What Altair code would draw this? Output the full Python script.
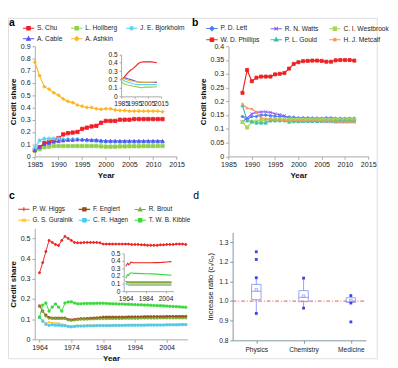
import json
import altair as alt
import pandas as pd

FONT = "Liberation Sans"
W, H = 390, 360

# ---------------- panel a ----------------
a_years = list(range(1985, 2013))
a_names = ["S. Chu", "L. Hollberg", "J. E. Bjorkholm", "A. Cable", "A. Ashkin"]
a_colors = ["#f01e28", "#8fd14f", "#62d3f4", "#5a4cf2", "#fcb625"]
a_chu = [0.05, 0.075, 0.11, 0.12, 0.135, 0.15, 0.18, 0.19, 0.195, 0.20, 0.225, 0.235, 0.245, 0.25,
         0.275, 0.29, 0.29, 0.29, 0.30, 0.30, 0.30, 0.305, 0.305, 0.305, 0.305, 0.305, 0.305, 0.305]
a_hollberg = [0.05, 0.06, 0.075, 0.08, 0.085, 0.085, 0.085, 0.085, 0.085, 0.085, 0.085, 0.085, 0.085, 0.085,
              0.082, 0.08, 0.08, 0.08, 0.082, 0.082, 0.083, 0.083, 0.083, 0.084, 0.084, 0.084, 0.085, 0.085]
a_bjorkholm = [0.07, 0.13, 0.145, 0.145, 0.145, 0.145, 0.14, 0.14, 0.14, 0.14, 0.135, 0.13, 0.13, 0.125,
               0.12, 0.12, 0.12, 0.12, 0.118, 0.118, 0.118, 0.118, 0.118, 0.118, 0.118, 0.118, 0.118, 0.118]
a_cable = [0.05, 0.075, 0.10, 0.11, 0.12, 0.125, 0.13, 0.135, 0.135, 0.138, 0.138, 0.138, 0.135, 0.135,
           0.13, 0.128, 0.128, 0.127, 0.127, 0.127, 0.127, 0.127, 0.127, 0.127, 0.127, 0.127, 0.127, 0.127]
a_ashkin = [0.77, 0.66, 0.57, 0.55, 0.52, 0.50, 0.47, 0.45, 0.44, 0.42, 0.41, 0.40, 0.40, 0.39,
            0.385, 0.39, 0.39, 0.38, 0.375, 0.375, 0.37, 0.37, 0.37, 0.37, 0.37, 0.37, 0.37, 0.365]

a_in_years = [1985, 1986, 1987, 1988, 1990, 1992, 1994, 1996, 1998, 2000, 2002, 2004, 2006, 2008, 2010, 2012]
a_in_chu = [0.20, 0.21, 0.22, 0.24, 0.28, 0.31, 0.33, 0.36, 0.39, 0.405, 0.41, 0.41, 0.41, 0.41, 0.405, 0.40]
a_in_hollberg = [0.20, 0.16, 0.15, 0.145, 0.135, 0.13, 0.12, 0.115, 0.11, 0.105, 0.107, 0.11, 0.11, 0.11, 0.112, 0.115]
a_in_bjorkholm = [0.20, 0.20, 0.19, 0.18, 0.17, 0.16, 0.15, 0.145, 0.14, 0.14, 0.14, 0.14, 0.14, 0.14, 0.14, 0.14]
a_in_cable = [0.20, 0.21, 0.22, 0.22, 0.21, 0.20, 0.19, 0.18, 0.17, 0.168, 0.165, 0.165, 0.165, 0.165, 0.165, 0.165]
a_in_ashkin = [0.20, 0.21, 0.21, 0.205, 0.195, 0.185, 0.18, 0.175, 0.17, 0.17, 0.17, 0.17, 0.17, 0.17, 0.172, 0.175]

# ---------------- panel b ----------------
b_years = list(range(1988, 2013))
b_names = ["P. D. Lett", "R. N. Watts", "C. I. Westbrook", "W. D. Phillips", "P. L. Gould", "H. J. Metcalf"]
b_colors = ["#4a80f0", "#8a5cf2", "#a5d65a", "#ee2020", "#30c4a4", "#f8955a"]
b_lett = [0.145, 0.135, 0.145, 0.145, 0.15, 0.15, 0.148, 0.146, 0.145, 0.145, 0.143, 0.142, 0.14,
          0.14, 0.14, 0.139, 0.139, 0.138, 0.14, 0.14, 0.138, 0.138, 0.138, 0.138, 0.138]
b_watts = [0.125, 0.14, 0.155, 0.16, 0.162, 0.162, 0.16, 0.155, 0.152, 0.148, 0.138, 0.132, 0.128,
           0.128, 0.127, 0.127, 0.127, 0.126, 0.126, 0.126, 0.125, 0.125, 0.125, 0.125, 0.125]
b_westbrook = [0.125, 0.105, 0.125, 0.127, 0.13, 0.133, 0.135, 0.135, 0.135, 0.135, 0.134, 0.134, 0.134,
               0.134, 0.134, 0.134, 0.134, 0.134, 0.134, 0.134, 0.134, 0.134, 0.134, 0.134, 0.134]
b_phillips = [0.231, 0.314, 0.273, 0.286, 0.29, 0.29, 0.29, 0.298, 0.30, 0.303, 0.319, 0.336, 0.342,
              0.346, 0.347, 0.348, 0.348, 0.347, 0.344, 0.344, 0.349, 0.35, 0.35, 0.35, 0.348]
b_gould = [0.185, 0.13, 0.128, 0.122, 0.122, 0.122, 0.13, 0.13, 0.13, 0.13, 0.125, 0.127, 0.127,
           0.128, 0.128, 0.128, 0.128, 0.128, 0.129, 0.129, 0.129, 0.13, 0.13, 0.13, 0.13]
b_metcalf = [0.19, 0.175, 0.172, 0.16, 0.14, 0.135, 0.135, 0.133, 0.132, 0.13, 0.13, 0.13, 0.13,
             0.13, 0.13, 0.13, 0.13, 0.128, 0.128, 0.128, 0.125, 0.125, 0.125, 0.125, 0.125]

# ---------------- panel c ----------------
c_years = list(range(1964, 2011))
c_names = ["P. W. Higgs", "F. Englert", "R. Brout", "G. S. Guralnik", "C. R. Hagen", "T. W. B. Kibble"]
c_colors = ["#ee2424", "#9a4a1c", "#78b634", "#fbbf2a", "#4cc8f0", "#3ad83a"]
c_higgs = [0.33, 0.38, 0.435, 0.49, 0.48, 0.47, 0.465, 0.49, 0.51, 0.50,
           0.49, 0.48, 0.478, 0.478, 0.48, 0.48, 0.48, 0.48, 0.48, 0.478,
           0.472, 0.472, 0.472, 0.472, 0.472, 0.472, 0.472, 0.472, 0.472, 0.47,
           0.47, 0.47, 0.468, 0.468, 0.466, 0.466, 0.466, 0.466, 0.468, 0.468,
           0.47, 0.47, 0.47, 0.472, 0.472, 0.472, 0.47]
c_englert = [0.165, 0.14, 0.12, 0.108, 0.105, 0.105, 0.105, 0.105, 0.105, 0.098,
             0.096, 0.098, 0.10, 0.102, 0.102, 0.103, 0.104, 0.105, 0.106, 0.107,
             0.11, 0.11, 0.11, 0.11, 0.11, 0.11, 0.11, 0.11, 0.111, 0.111,
             0.111, 0.111, 0.111, 0.112, 0.112, 0.112, 0.112, 0.112, 0.112, 0.112,
             0.113, 0.113, 0.113, 0.113, 0.113, 0.113, 0.113]
c_brout = [0.17, 0.14, 0.115, 0.105, 0.105, 0.104, 0.104, 0.104, 0.103, 0.097,
           0.095, 0.097, 0.099, 0.10, 0.10, 0.10, 0.101, 0.101, 0.102, 0.102,
           0.102, 0.102, 0.103, 0.103, 0.103, 0.103, 0.103, 0.104, 0.104, 0.104,
           0.104, 0.104, 0.105, 0.105, 0.105, 0.105, 0.105, 0.105, 0.106, 0.106,
           0.106, 0.106, 0.106, 0.106, 0.106, 0.106, 0.106]
c_guralnik = [0.11, 0.095, 0.08, 0.085, 0.082, 0.08, 0.08, 0.075, 0.07, 0.066,
              0.065, 0.067, 0.068, 0.068, 0.069, 0.069, 0.069, 0.07, 0.07, 0.07,
              0.07, 0.07, 0.07, 0.071, 0.071, 0.071, 0.071, 0.071, 0.071, 0.072,
              0.072, 0.072, 0.072, 0.072, 0.072, 0.072, 0.072, 0.072, 0.072, 0.072,
              0.073, 0.073, 0.073, 0.074, 0.074, 0.074, 0.074]
c_hagen = [0.11, 0.09, 0.075, 0.07, 0.072, 0.07, 0.07, 0.068, 0.068, 0.064,
           0.062, 0.064, 0.066, 0.066, 0.066, 0.067, 0.067, 0.067, 0.068, 0.068,
           0.068, 0.068, 0.068, 0.069, 0.069, 0.069, 0.069, 0.07, 0.07, 0.07,
           0.07, 0.07, 0.07, 0.07, 0.071, 0.071, 0.071, 0.071, 0.071, 0.071,
           0.072, 0.072, 0.072, 0.072, 0.073, 0.073, 0.073]
c_kibble = [0.11, 0.17, 0.18, 0.14, 0.16, 0.175, 0.16, 0.14, 0.18, 0.185,
            0.186, 0.18, 0.176, 0.176, 0.178, 0.178, 0.178, 0.178, 0.179, 0.179,
            0.179, 0.178, 0.177, 0.176, 0.176, 0.175, 0.175, 0.174, 0.174, 0.173,
            0.172, 0.171, 0.171, 0.17, 0.17, 0.169, 0.168, 0.167, 0.167, 0.166,
            0.165, 0.164, 0.163, 0.162, 0.161, 0.16, 0.159]

c_in_years = [1964, 1965, 1966, 1967, 1968, 1969, 1970, 1972, 1975, 1980, 1985, 1990, 1995, 2000, 2005, 2010]
c_in_higgs = [0.33, 0.35, 0.37, 0.35, 0.36, 0.38, 0.38, 0.375, 0.375, 0.375, 0.375, 0.375, 0.378, 0.38, 0.385, 0.39]
c_in_englert = [0.13, 0.125, 0.122, 0.12, 0.12, 0.12, 0.12, 0.12, 0.12, 0.12, 0.12, 0.12, 0.12, 0.12, 0.12, 0.12]
c_in_brout = [0.13, 0.12, 0.115, 0.112, 0.11, 0.11, 0.11, 0.11, 0.11, 0.11, 0.11, 0.11, 0.11, 0.11, 0.11, 0.11]
c_in_guralnik = [0.11, 0.10, 0.095, 0.09, 0.09, 0.09, 0.09, 0.09, 0.09, 0.09, 0.09, 0.09, 0.09, 0.09, 0.09, 0.09]
c_in_hagen = [0.10, 0.09, 0.085, 0.08, 0.08, 0.08, 0.08, 0.08, 0.08, 0.08, 0.08, 0.08, 0.08, 0.08, 0.08, 0.08]
c_in_kibble = [0.17, 0.20, 0.22, 0.21, 0.235, 0.24, 0.24, 0.235, 0.235, 0.232, 0.23, 0.228, 0.225, 0.22, 0.215, 0.21]

# ---------------- panel d ----------------
d_cats = ["Physics", "Chemistry", "Medicine"]
d_q1 = [1.007, 0.997, 0.993]
d_median = [1.05, 1.019, 0.995]
d_q3 = [1.085, 1.053, 1.017]
d_mean = [1.058, 1.025, 1.002]
d_low = [0.937, 0.964, 0.99]
d_high = [1.119, 1.117, 1.028]
d_pt_cat = ["Physics", "Physics", "Physics", "Physics", "Chemistry", "Chemistry",
            "Medicine", "Medicine", "Medicine"]
d_pt_val = [1.251, 1.212, 1.119, 0.937, 1.117, 0.964, 1.028, 0.99, 0.894]
d_ref = [1.0]

# ---------------- helpers ----------------
XP = "M-1,-1L1,1M-1,1L1,-1"
AST = "M-1,0H1M0,-1V1M-0.7,-0.7L0.7,0.7M-0.7,0.7L0.7,-0.7"
LEG = {
    "square": "M-1,0H1M-0.3,-0.3H0.3V0.3H-0.3Z",
    "circle": "M-1,0H1M0.3,0A0.3,0.3,0,1,1,-0.3,0A0.3,0.3,0,1,1,0.3,0Z",
    "triangle-up": "M-1,0H1M0,-0.35L0.32,0.25H-0.32Z",
    "diamond": "M-1,0H1M0,-0.38L0.38,0L0,0.38L-0.38,0Z",
    "cross": "M-1,0H1M0,-0.35V0.35",
    XP: "M-1,0H1M-0.3,-0.3L0.3,0.3M-0.3,0.3L0.3,-0.3",
    AST: "M-1,0H1M0,-0.35V0.35M-0.28,-0.28L0.28,0.28M-0.28,0.28L0.28,-0.28",
}


def long_df(years, names, series):
    rows = []
    for nm, vals in zip(names, series):
        for yr, v in zip(years, vals):
            rows.append({"year": yr, "share": v, "name": nm})
    return pd.DataFrame(rows)


def ax(**kw):
    base = dict(grid=False, labelFont=FONT, titleFont=FONT, labelFontSize=7.5, titleFontSize=8.5,
                titleFontWeight="bold", domainColor="#a6a6a6", tickColor="#a6a6a6", tickSize=3,
                labelColor="#222222", titleColor="#111111", labelFlush=False, labelOverlap=False,
                labelPadding=2, titlePadding=3)
    base.update(kw)
    return alt.Axis(**base)


def line_panel(df, names, colors, shapes, xdom, xrng, xvals, ydom, yrng, yvals, yfmt,
               legx, legy, colpad, psize, lw=1.2, legfont=7):
    X = alt.X("year:Q", scale=alt.Scale(domain=xdom, range=xrng, nice=False, zero=False),
              axis=ax(orient="bottom", offset=yrng[0] - H, values=xvals, format="d", title="Year"))
    Y = alt.Y("share:Q", scale=alt.Scale(domain=ydom, range=yrng, nice=False, zero=False),
              axis=ax(orient="left", offset=-xrng[0], values=yvals, format=yfmt, title="Credit share"))
    base = alt.Chart(df).encode(x=X, y=Y)
    cs = alt.Scale(domain=names, range=colors)
    lines = base.mark_line(strokeWidth=lw).encode(color=alt.Color("name:N", scale=cs, legend=None))
    pts = base.mark_point(filled=True, size=psize, strokeWidth=0.8, opacity=1).encode(
        color=alt.Color("name:N", scale=cs, legend=None),
        stroke=alt.Stroke("name:N", scale=cs, legend=None),
        shape=alt.Shape("name:N", scale=alt.Scale(domain=names, range=shapes), legend=None))
    leg = alt.Legend(orient="none", legendX=legx, legendY=legy, columns=3, direction="horizontal",
                     title=None, symbolSize=144, symbolOpacity=1, symbolStrokeWidth=1.1, labelFont=FONT,
                     labelFontSize=legfont, labelColor="#222222", columnPadding=colpad, rowPadding=-1,
                     padding=0, labelOffset=2)
    dummy = base.mark_point(filled=True, opacity=0).encode(
        color=alt.Color("name:N", scale=cs, legend=leg),
        stroke=alt.Stroke("name:N", scale=cs, legend=leg),
        shape=alt.Shape("name:N", scale=alt.Scale(domain=names, range=[LEG[s] for s in shapes]), legend=leg))
    return alt.layer(lines, pts, dummy).resolve_scale(color="independent", stroke="independent",
                                                      shape="independent")


def inset(df, names, colors, xdom, xrng, xvals, ydom, yrng, yvals):
    X = alt.X("year:Q", scale=alt.Scale(domain=xdom, range=xrng, nice=False, zero=False),
              axis=ax(orient="bottom", offset=yrng[0] - H, values=xvals, format="d", title=None,
                      labelFontSize=7, tickSize=2))
    Y = alt.Y("share:Q", scale=alt.Scale(domain=ydom, range=yrng, nice=False, zero=False),
              axis=ax(orient="left", offset=-xrng[0], values=yvals, format=".1~f", title=None,
                      labelFontSize=7, tickSize=2))
    return alt.Chart(df).mark_line(strokeWidth=1.2).encode(
        x=X, y=Y, color=alt.Color("name:N", scale=alt.Scale(domain=names, range=colors), legend=None))


# ---------------- build panels ----------------
df_a = long_df(a_years, a_names, [a_chu, a_hollberg, a_bjorkholm, a_cable, a_ashkin])
panel_a = line_panel(df_a, a_names, a_colors, ["square", "square", "circle", "triangle-up", "diamond"],
                     [1985, 2015], [28.4, 178.4], [1985, 1990, 1995, 2000, 2005, 2010, 2015],
                     [0, 0.9], [146.5, 30], [0, 0.1, 0.2, 0.3, 0.4, 0.5, 0.6, 0.7, 0.8, 0.9], ".1~f",
                     14.7, 4, 6, 13)
df_ai = long_df(a_in_years, a_names, [a_in_chu, a_in_hollberg, a_in_bjorkholm, a_in_cable, a_in_ashkin])
inset_a = inset(df_ai, a_names, a_colors, [1985, 2015], [119.6, 161.7], [1985, 1995, 2005, 2015],
                [0, 0.5], [83, 38.5], [0, 0.1, 0.2, 0.3, 0.4, 0.5])

df_b = long_df(b_years, b_names, [b_lett, b_watts, b_westbrook, b_phillips, b_gould, b_metcalf])
panel_b = line_panel(df_b, b_names, b_colors, ["diamond", XP, "square", "square", "triangle-up", AST],
                     [1985, 2015], [233.2, 381], [1985, 1990, 1995, 2000, 2005, 2010, 2015],
                     [0, 0.4], [146.5, 30], [0, 0.05, 0.1, 0.15, 0.2, 0.25, 0.3, 0.35, 0.4], ".2~f",
                     208.7, 4, 8, 11)

df_c = long_df(c_years, c_names, [c_higgs, c_englert, c_brout, c_guralnik, c_hagen, c_kibble])
panel_c = line_panel(df_c, c_names, c_colors, ["cross", "square", "triangle-up", XP, "square", "square"],
                     [1962.5, 2010.5], [28.3, 189.7], [1964, 1974, 1984, 1994, 2004],
                     [0, 0.55], [340, 222.5], [0, 0.1, 0.2, 0.3, 0.4, 0.5], ".1~f",
                     9.8, 195, 3, 5, lw=1.0, legfont=6.8)
df_ci = long_df(c_in_years, c_names, [c_in_higgs, c_in_englert, c_in_brout, c_in_guralnik, c_in_hagen, c_in_kibble])
inset_c = inset(df_ci, c_names, c_colors, [1962, 2012], [122.4, 175], [1964, 1984, 2004],
                [0, 0.5], [289, 249], [0, 0.1, 0.2, 0.3, 0.4, 0.5])

# panel d
d_xdom = [-0.5, 2.32]
d_xrng = [237.6, 378.6]
d_ydom = [0.8, 1.35]
d_yrng = [341, 226.8]
d_axis_col = "#7d919b"
d_xaxis = ax(orient="bottom", offset=d_yrng[0] - H, values=[0, 1, 2], title=None,
             labelExpr=json.dumps(d_cats) + "[datum.value]", domainColor=d_axis_col,
             tickColor=d_axis_col, labelFontSize=7, labelPadding=3)
d_yaxis = ax(orient="left", offset=-d_xrng[0], values=[0.8, 0.9, 1.0, 1.1, 1.2, 1.3], format=".1f",
             title="Increase ratio (c\u209b/c\u209a)", titleFontWeight="normal", titleFontSize=8,
             domainColor=d_axis_col, tickColor=d_axis_col, labelFontSize=7, titlePadding=5)


def DX(f):
    return alt.X(f, scale=alt.Scale(domain=d_xdom, range=d_xrng, nice=False, zero=False), axis=d_xaxis)


def DY(f):
    return alt.Y(f, scale=alt.Scale(domain=d_ydom, range=d_yrng, nice=False, zero=False), axis=d_yaxis)


df_d = pd.DataFrame({"cat": d_cats, "pos": list(range(len(d_cats))), "q1": d_q1, "med": d_median,
                     "q3": d_q3, "mean": d_mean, "lo": d_low, "hi": d_high})
df_dp = pd.DataFrame({"cat": d_pt_cat, "val": d_pt_val})
df_dp["pos"] = [d_cats.index(c) for c in d_pt_cat]
df_ref = pd.DataFrame({"v": d_ref, "xa": [d_xdom[0]], "xb": [d_xdom[1]]})

BOXC = "#8fa0f4"
whisk = alt.Chart(df_d).mark_rule(color=BOXC, strokeWidth=1).encode(x=DX("pos:Q"), y=DY("lo:Q"), y2="hi:Q")
box = alt.Chart(df_d).transform_calculate(x0="datum.pos - 0.1", x1="datum.pos + 0.1").mark_rect(
    fill="white", stroke=BOXC, strokeWidth=1).encode(x=DX("x0:Q"), x2="x1:Q", y=DY("q1:Q"), y2="q3:Q")
med = alt.Chart(df_d).transform_calculate(x0="datum.pos - 0.1", x1="datum.pos + 0.1").mark_rule(
    color=BOXC, strokeWidth=1).encode(x=DX("x0:Q"), x2="x1:Q", y=DY("med:Q"))
refl = alt.Chart(df_ref).mark_rule(color="#f07878", strokeWidth=1.2, strokeDash=[4, 2, 1, 2]).encode(
    x=DX("xa:Q"), x2="xb:Q", y=DY("v:Q"))
meanp = alt.Chart(df_d).mark_point(shape="square", size=7, filled=False, strokeWidth=0.8, color=BOXC,
                                   opacity=1).encode(x=DX("pos:Q"), y=DY("mean:Q"))
dpts = alt.Chart(df_dp).mark_point(shape="square", size=9, filled=True, color="#3a46ee", opacity=1).encode(
    x=DX("pos:Q"), y=DY("val:Q"))
panel_d = alt.layer(whisk, box, med, refl, meanp, dpts)


def letter(t, x, y, bold=True):
    return alt.Chart(pd.DataFrame({"t": [t]})).mark_text(
        font=FONT, fontSize=11, fontWeight="bold" if bold else "normal", align="center",
        baseline="middle", color="#000000").encode(text="t:N", x=alt.value(x), y=alt.value(y))


chart = alt.layer(
    panel_a, inset_a, panel_b, panel_c, inset_c, panel_d,
    letter("a", 4, 6), letter("b", 198, 6), letter("c", 4, 188), letter("d", 199, 188, bold=False),
).resolve_scale(
    x="independent", y="independent", color="independent", stroke="independent", shape="independent"
).properties(width=W, height=H, padding=0).configure_view(stroke=None).configure(font=FONT)

chart.save("out.html", embed_options={"renderer": "svg", "actions": False})
